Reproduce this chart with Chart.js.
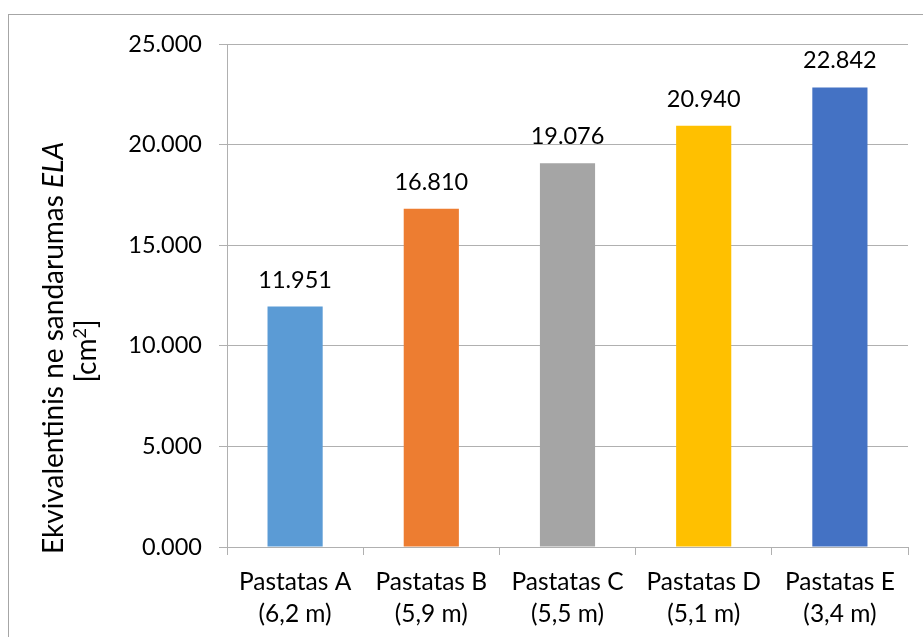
<!DOCTYPE html>
<html>
<head>
<meta charset="utf-8">
<script src="https://cdn.jsdelivr.net/npm/chart.js@4"></script>
<style>
  html, body { margin: 0; padding: 0; background: #fff; overflow: hidden; }
  .frame { position: absolute; left: 8px; top: 14px; width: 1000px; height: 1000px; border: 1px solid #a6a6a6; }
  #elaChart { position: absolute; left: 0; top: 0; }
</style>
</head>
<body>
<div class="frame"></div>
<canvas id="elaChart" width="923" height="637"></canvas>
<script>
// Buildings and their ELA values (cm2)
const buildings = [
  ['Pastatas A', '(6,2 m)'],
  ['Pastatas B', '(5,9 m)'],
  ['Pastatas C', '(5,5 m)'],
  ['Pastatas D', '(5,1 m)'],
  ['Pastatas E', '(3,4 m)']
];
const elaValues = [11.951, 16.810, 19.076, 20.940, 22.842];
const yTickMin = 0;
const yTickMax = 25;
const yTickStep = 5;

const barColors = ['#5B9BD5', '#ED7D31', '#A5A5A5', '#FFC000', '#4472C4'];
const FONT = 'Lato';
const axisGray = '#b0b0b0';

// -----------------------
// value labels above each bar
// -----------------------
const valueLabels = {
  id: 'valueLabels',
  afterDatasetsDraw(chart) {
    const ctx = chart.ctx;
    const meta = chart.getDatasetMeta(0);
    ctx.save();
    ctx.font = `23.5px ${FONT}`;
    ctx.fillStyle = '#000';
    ctx.textAlign = 'center';
    ctx.textBaseline = 'alphabetic';
    meta.data.forEach((bar, i) => {
      ctx.fillText(elaValues[i].toFixed(3), bar.x, bar.y - 19);
    });
    ctx.restore();
  }
};

// -----------------------
// rotated y axis title, "ELA" in italics
// -----------------------
const yTitle = {
  id: 'yTitle',
  afterDraw(chart) {
    const ctx = chart.ctx;
    const cy = 348;
    const normal = `28px ${FONT}`;
    const italic = `italic 28px ${FONT}`;
    const part1 = 'Ekvivalentinis ne sandarumas ';
    const part2 = 'ELA';

    ctx.save();
    ctx.fillStyle = '#000';
    ctx.textBaseline = 'alphabetic';

    // first line
    ctx.save();
    ctx.translate(63, cy);
    ctx.rotate(-Math.PI / 2);
    ctx.font = normal;
    const w1 = ctx.measureText(part1).width;
    ctx.font = italic;
    const w2 = ctx.measureText(part2).width;
    const start = -(w1 + w2) / 2;
    ctx.textAlign = 'left';
    ctx.font = normal;
    ctx.fillText(part1, start, 0);
    ctx.font = italic;
    ctx.fillText(part2, start + w1, 0);
    ctx.restore();

    // second line: [cm2] with superscript
    ctx.save();
    ctx.translate(96, cy + 3);
    ctx.rotate(-Math.PI / 2);
    ctx.font = normal;
    const a = '[cm', b = ']';
    const wa = ctx.measureText(a).width;
    const wb = ctx.measureText(b).width;
    ctx.font = `18px ${FONT}`;
    const ws = ctx.measureText('2').width;
    const s = -(wa + ws + wb) / 2;
    ctx.textAlign = 'left';
    ctx.font = normal;
    ctx.fillText(a, s, 0);
    ctx.font = `18px ${FONT}`;
    ctx.fillText('2', s + wa, -10);
    ctx.font = normal;
    ctx.fillText(b, s + wa + ws, 0);
    ctx.restore();

    ctx.restore();
  }
};

const ctx = document.getElementById('elaChart').getContext('2d');
new Chart(ctx, {
  type: 'bar',
  data: {
    labels: buildings,
    datasets: [{
      data: elaValues,
      backgroundColor: barColors,
      borderWidth: 0,
      categoryPercentage: 1,
      barPercentage: 0.405
    }]
  },
  options: {
    responsive: false,
    animation: false,
    layout: { padding: { left: 0, right: 15, top: 44, bottom: 0 } },
    plugins: {
      legend: { display: false },
      tooltip: { enabled: false }
    },
    scales: {
      x: {
        offset: true,
        grid: {
          offset: true,
          drawOnChartArea: false,
          drawTicks: true,
          tickLength: 8,
          color: axisGray
        },
        border: { display: true, color: axisGray, width: 1 },
        ticks: {
          color: '#000',
          padding: 11,
          maxRotation: 0,
          font: { family: FONT, size: 24.5, lineHeight: 1.32 }
        },
        afterFit(scale) { scale.height = 90; }
      },
      y: {
        min: yTickMin,
        max: yTickMax,
        grid: {
          color: axisGray,
          drawTicks: true,
          tickLength: 8
        },
        border: { display: true, color: axisGray, width: 1 },
        ticks: {
          stepSize: yTickStep,
          color: '#000',
          padding: 17,
          font: { family: FONT, size: 23.5 },
          callback: v => v.toFixed(3)
        },
        afterFit(scale) { scale.width = 227; }
      }
    }
  },
  plugins: [valueLabels, yTitle]
});
</script>
</body>
</html>
